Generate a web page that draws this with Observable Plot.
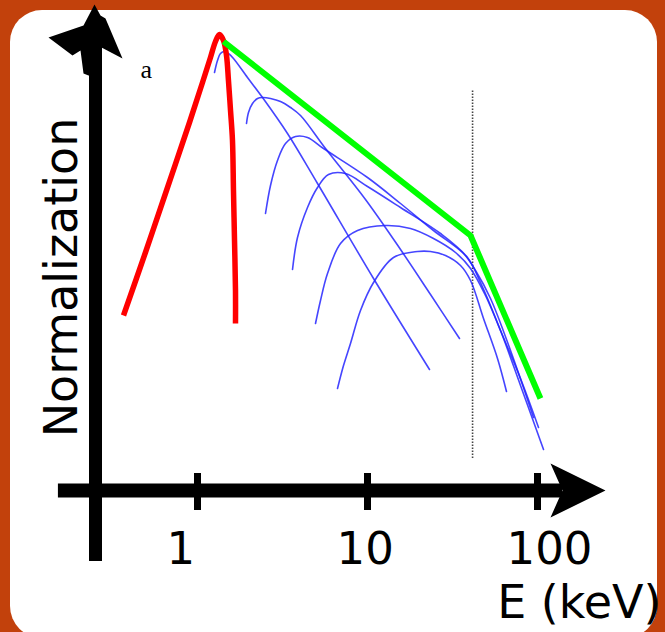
<!DOCTYPE html>
<html><head><meta charset="utf-8">
<script src="https://cdn.jsdelivr.net/npm/d3@7"></script>
<script src="https://cdn.jsdelivr.net/npm/@observablehq/plot@0.6"></script>
<style>
html,body{margin:0;padding:0;}
body{width:665px;height:632px;overflow:hidden;background:#C2410C;position:relative;}
#card{position:absolute;left:10px;top:10px;width:647px;height:628px;background:#fff;border-radius:32px;}
#chart{position:absolute;left:0;top:0;}
</style></head><body><div id="card"></div><div id="chart"></div>
<script>
// Energies in keV, normalization in arbitrary (log) units
const redE = [0.367, 0.494, 0.657, 0.897, 1.070, 1.192, 1.276, 1.347, 1.422, 1.481, 1.521, 1.564, 1.606, 1.628, 1.651, 1.673, 1.673];
const redN = [17.5, 23.8, 30.0, 36.8, 40.8, 43.3, 44.9, 45.6, 45.0, 43.5, 41.0, 38.0, 35.0, 30.0, 25.0, 20.0, 16.7];

const greenE = [1.422, 40.36, 104.1];
const greenN = [44.9, 25.5, 9.2];

const b1E = [1.259, 1.311, 1.365, 1.441, 1.521, 1.628, 1.968, 2.412, 3.384, 5.081, 10.85, 23.16];
const b1N = [41.8, 43.0, 43.7, 43.9, 43.7, 43.2, 41.3, 39.3, 35.7, 30.7, 21.2, 12.1];
const b2E = [1.942, 1.995, 2.106, 2.254, 2.412, 2.688, 3.078, 3.525, 4.036, 5.662, 9.732, 15.64, 23.48, 34.77];
const b2N = [36.7, 37.8, 38.7, 39.2, 39.3, 39.2, 38.9, 38.3, 37.5, 34.2, 29.1, 24.1, 19.6, 15.2];
const b3E = [2.512, 2.688, 2.955, 3.294, 3.772, 4.437, 5.511, 10.0, 15.64, 24.45, 36.71, 43.19, 52.91, 69.38, 94.77];
const b3N = [27.7, 30.5, 33.0, 34.7, 35.4, 35.3, 34.2, 31.3, 28.7, 26.0, 23.7, 22.0, 19.2, 14.0, 7.3];
const b4E = [3.622, 3.875, 4.437, 5.081, 5.896, 7.425, 10.0, 15.64, 26.88, 38.74, 46.20, 60.58, 79.43, 108.5];
const b4N = [22.1, 25.3, 28.3, 30.3, 31.6, 31.7, 30.4, 28.3, 25.7, 23.3, 20.8, 16.0, 10.5, 4.1];
const b5E = [4.945, 5.291, 5.817, 6.938, 8.735, 12.76, 17.90, 24.45, 32.94, 40.36, 49.43, 60.58, 79.43, 101.4];
const b5N = [16.7, 19.0, 21.7, 24.7, 26.0, 26.5, 26.2, 25.2, 23.8, 22.2, 19.5, 16.0, 11.2, 6.3];
const b6E = [6.661, 7.226, 7.943, 9.095, 10.85, 14.22, 19.68, 23.48, 28.76, 35.25, 40.36, 48.13, 58.17, 65.70];
const b6N = [10.2, 12.5, 14.7, 18.0, 20.8, 23.3, 23.9, 23.9, 23.5, 22.5, 21.0, 17.2, 13.2, 9.9];

const breakE = [41.5];          // dotted vertical line (keV)
const breakSpan = [3.2, 40.1];  // its extent in normalization units
const tickValues = [1, 10, 100];
const tickLabels = ["1", "10", "100"];

const rows = (E, N, id) => E.map((e, i) => ({E: e, N: N[i], id}));
const red = rows(redE, redN, "red");
const green = rows(greenE, greenN, "green");
const blue = [
  rows(b1E, b1N, "b1"), rows(b2E, b2N, "b2"), rows(b3E, b3N, "b3"),
  rows(b4E, b4N, "b4"), rows(b5E, b5N, "b5"), rows(b6E, b6N, "b6")
].flat();

const arrowRight = {draw(ctx) {
  ctx.moveTo(43, 0); ctx.lineTo(-12, -27); ctx.lineTo(0, 0); ctx.lineTo(-12, 27); ctx.closePath();
}};
const arrowUp = {draw(ctx) {
  const p = [[-1,-41],[5,-30],[10,-27],[13,-20],[27,13],[6,2],[6,30],[-7,30],[-12,28],[-15,5],[-23,10],[-47,-8],[-12,-20]];
  ctx.moveTo(p[0][0], p[0][1]);
  for (let i = 1; i < p.length; i++) ctx.lineTo(p[i][0], p[i][1]);
  ctx.closePath();
}};

const chart = Plot.plot({
  width: 665, height: 632, margin: 0,
  style: {background: "transparent", overflow: "visible", fontFamily: "DejaVu Sans"},
  x: {type: "log", domain: [1, 100], range: [197, 537], axis: null},
  y: {type: "linear", domain: [0, 46], range: [490, 30], axis: null},
  marks: [
    Plot.ruleX(breakE, {y1: breakSpan[0], y2: breakSpan[1], stroke: "#444", strokeWidth: 1.6, strokeDasharray: "1.5,1.5"}),
    Plot.line(blue, {x: "E", y: "N", z: "id", stroke: "#2525ff", strokeOpacity: 0.85, strokeWidth: 1.6, curve: "catmull-rom"}),
    Plot.line(red, {x: "E", y: "N", stroke: "#ff0000", strokeWidth: 5.5, curve: "catmull-rom", strokeLinecap: "butt"}),
    Plot.line(green, {x: "E", y: "N", stroke: "#00ff00", strokeWidth: 6, strokeLinecap: "butt", strokeLinejoin: "miter"}),
    // axes
    Plot.ruleY([0], {x1: 0.152, x2: 140.3, stroke: "black", strokeWidth: 14}),
    Plot.ruleX([0.2512], {y1: -7.1, y2: 44.5, stroke: "black", strokeWidth: 13}),
    Plot.ruleX(tickValues, {y1: -2.0, y2: 1.7, stroke: "black", strokeWidth: 7}),
    Plot.dot([[140.3, 0]], {x: d => d[0], y: d => d[1], symbol: arrowRight, fill: "black", stroke: "none"}),
    Plot.dot([[0.2512, 44.5]], {x: d => d[0], y: d => d[1], symbol: arrowUp, fill: "black", stroke: "none"}),
    // text
    Plot.text(tickValues, {x: d => d, text: (d, i) => tickLabels[i], frameAnchor: "bottom", dy: -69, dx: -31, textAnchor: "start", lineAnchor: "bottom", fontSize: 45, fill: "black"}),
    Plot.text(["E (keV)"], {frameAnchor: "bottom-right", dx: -4, dy: -15, textAnchor: "end", lineAnchor: "bottom", fontSize: 46, fill: "black"}),
    Plot.text(["Normalization"], {frameAnchor: "left", dx: 62, dy: -39, rotate: -90, textAnchor: "middle", lineAnchor: "middle", fontSize: 46, fill: "black"}),
    Plot.text(["a"], {frameAnchor: "top-left", dx: 140, dy: 77, textAnchor: "start", lineAnchor: "bottom", fontSize: 26, fill: "black", fontFamily: "Liberation Serif"})
  ]
});
document.getElementById("chart").appendChild(chart);
</script></body></html>
